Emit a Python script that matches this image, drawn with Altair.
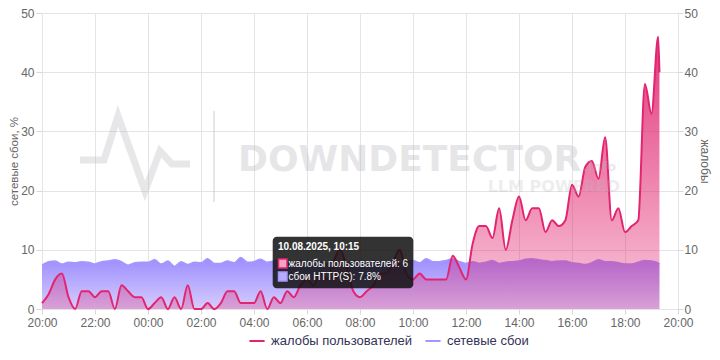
import altair as alt
import pandas as pd

# ---- data (15-minute steps from 20:00 on 09.08.2025, last point 19:18) ----
complaints = [1, 2.5, 5, 6, 2, 0, 3, 3, 2, 3, 3, 0, 4, 3, 2, 2,
              0, 1, 2, 0, 2, 0, 4, 0, 0, 1, 0, 1, 3, 3, 1, 1,
              1, 3, 0, 2, 1, 3, 2, 4, 5, 4, 6, 5, 8, 10, 7, 3,
              2, 3, 4, 6, 6, 8, 10, 6, 5, 6, 5, 5, 5, 5, 9, 7,
              5, 11, 14, 14, 12, 17, 10, 15, 19, 15, 17, 17, 13, 15, 14, 15,
              21, 19, 24, 25, 22, 29, 15, 17, 13, 14, 15, 38, 33, 46, 40]
network = [7.4, 8.0, 8.1, 7.6, 7.9, 7.8, 8.0, 7.9, 7.6, 8.0, 8.1, 8.3, 8.0, 7.4, 7.8, 7.9,
           7.9, 8.3, 7.6, 8.1, 7.2, 8.0, 7.5, 7.9, 7.8, 8.5, 7.7, 7.7, 8.1, 7.8, 8.7, 7.9,
           8.0, 8.4, 7.9, 8.1, 8.3, 8.0, 7.8, 8.2, 7.9, 8.1, 8.0, 7.7, 8.2, 8.0, 7.8, 8.1,
           8.0, 7.7, 8.2, 8.0, 7.9, 8.1, 7.8, 8.0, 8.2, 7.8, 8.5, 8.0, 8.0, 8.2, 8.5, 8.0,
           7.7, 8.0, 7.7, 7.9, 8.2, 7.7, 7.9, 8.0, 8.1, 8.4, 8.5, 8.3, 8.2, 8.0, 8.1, 8.1,
           7.8, 7.7, 7.5, 7.8, 8.3, 8.0, 8.0, 7.8, 7.6, 7.6, 7.9, 8.2, 8.1, 7.8, 7.6]
start = pd.Timestamp("2025-08-09 20:00")
times = [start + pd.Timedelta(minutes=15 * i) for i in range(94)] + [pd.Timestamp("2025-08-10 19:18")]
series_names = ["жалобы пользователей", "сетевые сбои"]
series_colors = ["#e3246e", "#a596ff"]
tick_hours = [(9, 20), (9, 22), (10, 0), (10, 2), (10, 4), (10, 6), (10, 8),
              (10, 10), (10, 12), (10, 14), (10, 16), (10, 18), (10, 20)]
y_ticks = [0, 10, 20, 30, 40, 50]

df = pd.DataFrame({
    "t": [t.strftime("%Y-%m-%dT%H:%M:%S") for t in times],
    "complaints": complaints,
    "network": network,
    "s1": series_names[0],
    "s2": series_names[1],
})

# watermark logo (pixel path, decoration only)
logo_x = [38, 62, 76, 103, 118, 130, 148]
logo_y = [147, 147, 103, 178, 138, 151, 151]
logo = pd.DataFrame({"px": logo_x, "py": logo_y, "o": list(range(len(logo_x)))})

GRID = "#e4e4e4"
LAB = "#666666"

xdt = [alt.DateTime(year=2025, month=8, date=d, hours=h) for d, h in tick_hours]
x_enc = alt.X("t:T", scale=alt.Scale(domain=[xdt[0], xdt[-1]]),
              axis=alt.Axis(values=xdt, format="%H:%M", title=None, labelFlush=False,
                            labelColor=LAB, labelFontSize=12, tickColor="#d8d8d8", tickSize=5,
                            labelPadding=3, grid=True, gridColor=GRID, domain=False))
yscale = alt.Scale(domain=[0, 50], nice=False, zero=True)

base = alt.Chart(df)

purple_area = base.mark_area(
    interpolate="monotone",
    color=alt.Gradient(gradient="linear", x1=1, x2=1, y1=1, y2=0,
                       stops=[alt.GradientStop(color="#d6cdfb", offset=0),
                              alt.GradientStop(color="#9c8dff", offset=1)])
).encode(
    x=x_enc,
    y=alt.Y("network:Q", scale=yscale,
            axis=alt.Axis(orient="left", values=y_ticks, title="сетевые сбои, %",
                          titleColor=LAB, titleFontWeight="normal", titleFontSize=11.5,
                          titlePadding=1, labelColor=LAB, labelFontSize=12,
                          grid=True, gridColor=GRID, domain=False, tickColor="#d8d8d8",
                          tickSize=6, labelPadding=2)),
)

purple_line = base.mark_line(interpolate="monotone", strokeWidth=1.5).encode(
    x=x_enc,
    y=alt.Y("network:Q", scale=yscale, axis=None),
    color=alt.Color("s2:N", scale=alt.Scale(domain=series_names, range=series_colors),
                    legend=alt.Legend(orient="none", legendX=206, legendY=319, direction="horizontal",
                                      title=None, symbolType="stroke", symbolStrokeWidth=2,
                                      symbolSize=230, labelFontSize=13, labelColor="#333355",
                                      labelOffset=5, columnPadding=8, padding=0)),
)

pink_area = base.mark_area(
    interpolate="monotone",
    color=alt.Gradient(gradient="linear", x1=1, x2=1, y1=1, y2=0,
                       stops=[alt.GradientStop(color="rgba(226,30,105,0.25)", offset=0),
                              alt.GradientStop(color="rgba(222,30,105,0.88)", offset=1)])
).encode(
    x=x_enc,
    y=alt.Y("complaints:Q", scale=yscale,
            axis=alt.Axis(orient="right", values=y_ticks, title="жалобы",
                          titleColor=LAB, titleFontWeight="normal", titleFontSize=12,
                          titlePadding=0, labelColor=LAB, labelFontSize=12,
                          grid=False, domain=False, tickColor="#d8d8d8",
                          tickSize=5, labelPadding=1)),
)

pink_line = base.mark_line(interpolate="monotone", strokeWidth=2).encode(
    x=x_enc,
    y=alt.Y("complaints:Q", scale=yscale, axis=None),
    color=alt.Color("s1:N", scale=alt.Scale(domain=series_names, range=series_colors)),
)

one = alt.Data(values=[{"a": 1}])
WM = "#b9b9c0"

wm_logo = alt.Chart(logo).mark_line(strokeWidth=7, color=WM, opacity=0.35,
                                    strokeJoin="miter").encode(
    x=alt.X("px:Q", scale=None, axis=None),
    y=alt.Y("py:Q", scale=None, axis=None),
    order="o:O",
)
wm_sep = alt.Chart(one).mark_rule(color=WM, opacity=0.35, strokeWidth=2).encode(
    x=alt.value(172), y=alt.value(98), y2=alt.value(189))
wm_text = alt.Chart(one).mark_text(text="DOWNDETECTOR", font="DejaVu Sans", fontWeight="bold",
                                   fontSize=36, align="left", baseline="alphabetic",
                                   color=WM, opacity=0.35).encode(
    x=alt.value(196), y=alt.value(158))
wm_info = alt.Chart(one).mark_text(text=".info", font="DejaVu Sans", fontWeight="bold",
                                   fontSize=13, align="left", baseline="alphabetic",
                                   color=WM, opacity=0.3).encode(
    x=alt.value(541), y=alt.value(158))
wm_llm = alt.Chart(one).mark_text(text="LLM POWERED", font="DejaVu Sans", fontWeight="bold",
                                  fontSize=16, align="right", baseline="alphabetic",
                                  color=WM, opacity=0.25).encode(
    x=alt.value(578), y=alt.value(179))

# static tooltip box
tip_box = alt.Chart(one).mark_rect(cornerRadius=4, color="#111111", opacity=0.86).encode(
    x=alt.value(230.7), x2=alt.value(371.3), y=alt.value(223.7), y2=alt.value(275.3))
tip_title = alt.Chart(one).mark_text(text="10.08.2025, 10:15", fontWeight="bold", fontSize=10,
                                     align="left", baseline="middle", color="white").encode(
    x=alt.value(236), y=alt.value(234))
sw1 = alt.Chart(one).mark_rect(fill="#f4a3c3", stroke="#e3246e", strokeWidth=1.5).encode(
    x=alt.value(236.5), x2=alt.value(245), y=alt.value(246), y2=alt.value(255))
sw2 = alt.Chart(one).mark_rect(fill="#b7adff", stroke="#a596ff", strokeWidth=1.5).encode(
    x=alt.value(236.5), x2=alt.value(245), y=alt.value(259), y2=alt.value(268))
tip_l1 = alt.Chart(one).mark_text(text="жалобы пользователей: 6", fontSize=10,
                                  align="left", baseline="middle", color="white").encode(
    x=alt.value(246.5), y=alt.value(250.5))
tip_l2 = alt.Chart(one).mark_text(text="сбои HTTP(S): 7.8%", fontSize=10,
                                  align="left", baseline="middle", color="white").encode(
    x=alt.value(246.5), y=alt.value(264))

chart = alt.layer(
    purple_area, purple_line, pink_area, pink_line,
    wm_logo, wm_sep, wm_text, wm_info, wm_llm,
    tip_box, tip_title, sw1, sw2, tip_l1, tip_l2,
).resolve_scale(y="independent").properties(
    width=636, height=296,
    autosize=alt.AutoSizeParams(type="none"),
    padding={"left": 34, "top": 5, "right": 34, "bottom": 39},
).configure(font="Liberation Sans").configure_view(stroke=None)

chart.save("out.html", embed_options={"renderer": "svg", "actions": False})
